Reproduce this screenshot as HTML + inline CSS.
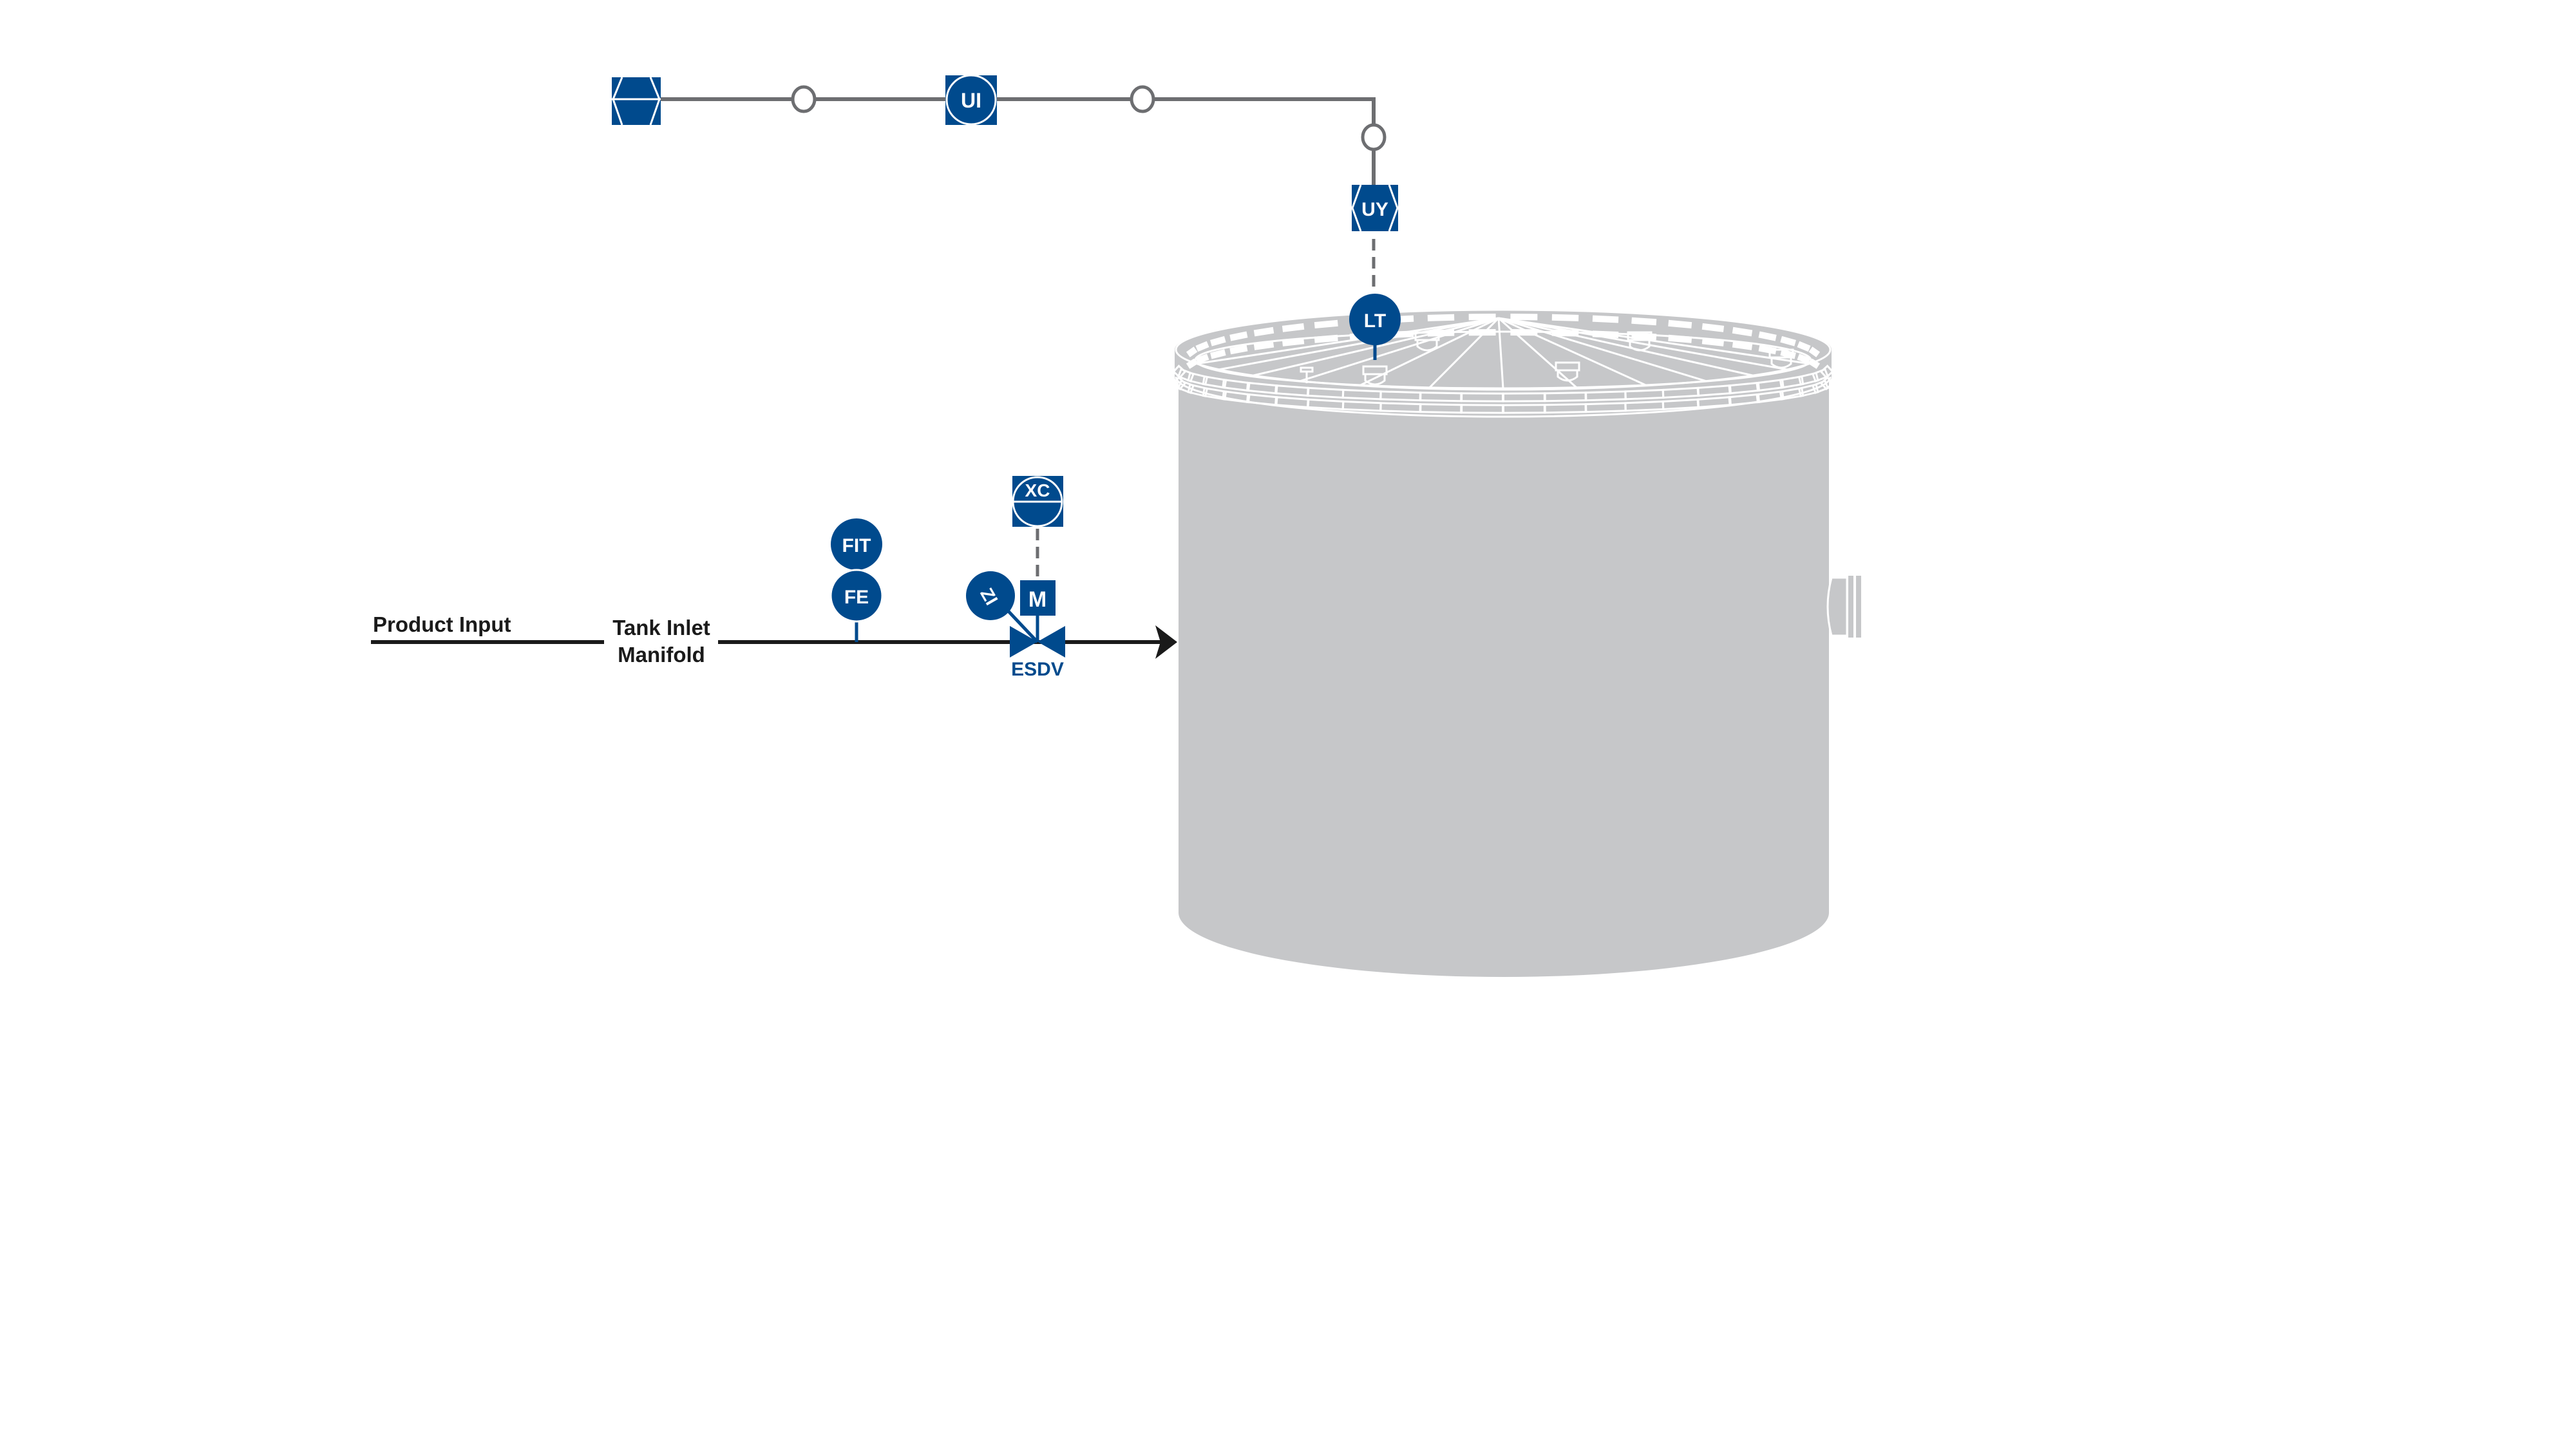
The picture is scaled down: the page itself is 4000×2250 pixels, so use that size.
<!DOCTYPE html>
<html><head><meta charset="utf-8"><style>
html,body{margin:0;padding:0;background:#fff;}
svg{display:block}
text{font-family:"Liberation Sans Narrow","Liberation Sans",sans-serif;font-weight:bold}
</style></head><body>
<svg width="4000" height="2250" viewBox="0 0 4000 2250" xmlns="http://www.w3.org/2000/svg">
<g transform="translate(-6,-1)">
<path d="M1836,580 L1836,1418 A505,100 0 0 0 2846,1418 L2846,580 Z" fill="#c6c7c9"/>
<path d="M2850,898 L2874,898 L2874,988 L2850,988 Q2838,943 2850,898Z" fill="#c6c7c9" stroke="#fff" stroke-width="3"/>
<rect x="2876" y="895" width="8" height="96" fill="#c6c7c9"/>
<rect x="2888" y="895" width="8" height="96" fill="#c6c7c9"/>
<ellipse cx="2340" cy="586" rx="510" ry="63" fill="#c6c7c9"/>
<rect x="1830" y="544" width="1020" height="42" fill="#c6c7c9"/>
<ellipse cx="2340" cy="544" rx="510" ry="63" fill="#c6c7c9"/>
<g id="tank" fill="none" stroke="#fff" stroke-width="3"></g>
<polyline points="1030,155 2139,155 2139,288" stroke="#6d6e71" stroke-width="6" fill="none"/>
<g fill="#fff" stroke="#6d6e71" stroke-width="5">
<ellipse cx="1254" cy="155" rx="17" ry="19"/>
<ellipse cx="1780" cy="155" rx="17" ry="19"/>
<ellipse cx="2139" cy="214" rx="17" ry="19"/>
</g>
<line x1="2139" y1="372" x2="2139" y2="455" stroke="#6d6e71" stroke-width="5" stroke-dasharray="18,10"/>
<rect x="956" y="121" width="76" height="74" fill="#004a8d"/>
<path d="M972,121 L958,155 L972,195 M1016,121 L1030,155 L1016,195 M956,155 L1032,155" stroke="#fff" stroke-width="3" fill="none"/>
<rect x="1474" y="118" width="80" height="77" fill="#004a8d"/>
<ellipse cx="1514" cy="156" rx="38" ry="38" fill="#004a8d" stroke="#fff" stroke-width="3"/>
<text x="1514" y="168" font-size="32" fill="#fff" text-anchor="middle">UI</text>
<g transform="translate(-5,0)">
<rect x="2110" y="288" width="72" height="72" fill="#004a8d"/>
<path d="M2124,288 L2111,324 L2124,360 M2168,288 L2181,324 L2168,360" stroke="#fff" stroke-width="3" fill="none"/>
<text x="2146" y="336" font-size="30" fill="#fff" text-anchor="middle">UY</text>
<line x1="2146" y1="530" x2="2146" y2="560" stroke="#004a8d" stroke-width="5"/>
<circle cx="2146" cy="497" r="40" fill="#004a8d"/>
<text x="2146" y="509" font-size="30" fill="#fff" text-anchor="middle">LT</text>
</g>
<line x1="582" y1="998" x2="944" y2="998" stroke="#1a1a1a" stroke-width="6"/>
<line x1="1121" y1="998" x2="1810" y2="998" stroke="#1a1a1a" stroke-width="6"/>
<polygon points="1834,998 1800,972 1808,998 1800,1024" fill="#1a1a1a"/>
<text x="585" y="982" font-size="33" fill="#1a1a1a">Product Input</text>
<text x="1033" y="987" font-size="33" fill="#1a1a1a" text-anchor="middle">Tank Inlet</text>
<text x="1033" y="1029" font-size="33" fill="#1a1a1a" text-anchor="middle">Manifold</text>
<line x1="1336" y1="960" x2="1336" y2="998" stroke="#004a8d" stroke-width="5"/>
<circle cx="1336" cy="846" r="40" fill="#004a8d"/>
<circle cx="1336" cy="926" r="40" fill="#004a8d" stroke="#fff" stroke-width="3"/>
<text x="1336" y="858" font-size="30" fill="#fff" text-anchor="middle">FIT</text>
<text x="1336" y="938" font-size="30" fill="#fff" text-anchor="middle">FE</text>
<g transform="translate(7,0)">
<line x1="1610" y1="822" x2="1610" y2="902" stroke="#6d6e71" stroke-width="5" stroke-dasharray="18,10"/>
<line x1="1610" y1="955" x2="1610" y2="998" stroke="#004a8d" stroke-width="5"/>
<line x1="1560" y1="945" x2="1610" y2="998" stroke="#004a8d" stroke-width="5"/>
<polygon points="1567,973 1567,1022 1653,973 1653,1022" fill="#004a8d"/>
<circle cx="1537" cy="926" r="38" fill="#004a8d"/>
<text x="1537" y="938" font-size="28" fill="#fff" text-anchor="middle" transform="rotate(60 1537 926)">ZI</text>
<rect x="1583" y="902" width="55" height="55" fill="#004a8d"/>
<text x="1610" y="943" font-size="34" fill="#fff" text-anchor="middle">M</text>
<rect x="1571" y="740" width="79" height="79" fill="#004a8d"/>
<circle cx="1610" cy="780" r="38" fill="#004a8d" stroke="#fff" stroke-width="3"/>
<line x1="1572" y1="780" x2="1648" y2="780" stroke="#fff" stroke-width="3"/>
<text x="1610" y="772" font-size="28" fill="#fff" text-anchor="middle">XC</text>
<text x="1610" y="1050" font-size="30" fill="#004a8d" text-anchor="middle">ESDV</text>
</g>
</g>
</svg>
<script>
(function(){
var g=document.getElementById('tank'),ns='http://www.w3.org/2000/svg';
function el(n,a){var e=document.createElementNS(ns,n);for(var k in a)e.setAttribute(k,a[k]);g.appendChild(e);return e;}
var cx=2340;
el('ellipse',{cx:cx,cy:544,rx:508,ry:62});
el('path',{d:'M1832,586 A508,62 0 0 0 2848,586'});
el('ellipse',{cx:cx,cy:560,rx:478,ry:44});
var ax=2333,ay=495;
for(var i=0;i<13;i++){var t=Math.PI*(0.04+0.92*i/12);var x=cx-478*Math.cos(t),y=560+44*Math.sin(t);el('line',{x1:ax,y1:ay,x2:x,y2:y});}
for(var r=0;r<2;r++){
 for(var i=0;i<24;i++){var t=Math.PI*(0.03+0.94*i/23);var x=cx-505*Math.cos(t),y=(r?592:574)+44*Math.sin(t);
  var w=56*Math.sin(t)+8, ang=Math.atan2(44*Math.cos(t),505*Math.sin(t))*180/Math.PI;
  el('rect',{x:x-w/2,y:y-6,width:w,height:12,transform:'rotate('+ang+' '+x+' '+y+')'});}
}
var rows=[[560,67],[577,60]];
for(var r=0;r<2;r++){
 for(var i=0;i<22;i++){var t=Math.PI*(0.06+0.88*i/21);var x=cx-492*Math.cos(t),y=rows[r][0]-rows[r][1]*Math.sin(t);
  var w=34*Math.sin(t)+8, ang=-Math.atan2(rows[r][1]*Math.cos(t),492*Math.sin(t))*180/Math.PI;
  el('rect',{x:x-w/2,y:y-5,width:w,height:10,fill:'#fff',stroke:'none',transform:'rotate('+ang+' '+x+' '+y+')'});}
}
[[2141,578],[2222,525],[2440,572],[2552,525],[2772,552]].forEach(function(p){
 el('rect',{x:p[0]-18,y:p[1]-8,width:36,height:12});
 el('path',{d:'M'+(p[0]-15)+','+(p[1]+4)+' L'+(p[0]-15)+','+(p[1]+14)+' Q'+p[0]+','+(p[1]+26)+' '+(p[0]+15)+','+(p[1]+14)+' L'+(p[0]+15)+','+(p[1]+4)});
});
el('rect',{x:2026,y:572,width:18,height:6});el('line',{x1:2035,y1:578,x2:2035,y2:596});
})();
</script>
</body></html>
